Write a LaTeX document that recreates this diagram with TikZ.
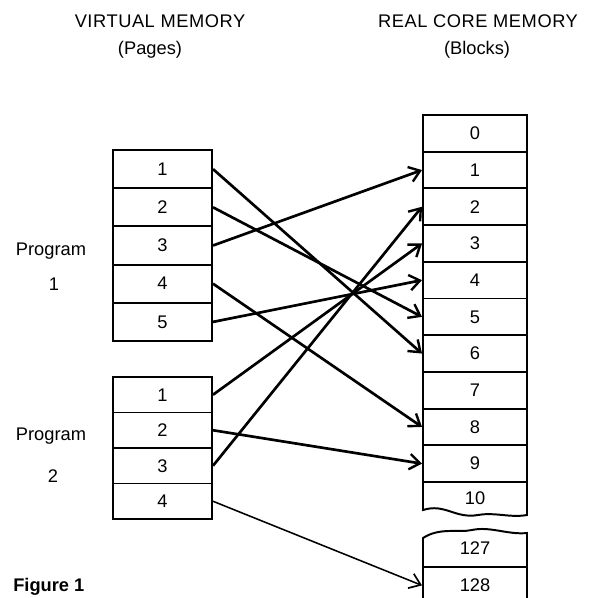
\documentclass[tikz,border=0pt]{standalone}
\usepackage{fontspec}
\setmainfont{Liberation Sans}
\usetikzlibrary{arrows.meta,calc,positioning}

\tikzset{
  lbl/.style={font=\fontsize{13}{15}\selectfont, inner sep=0pt},
  head/.style={font=\fontsize{13}{15}\selectfont\addfontfeatures{LetterSpace=3}, inner sep=0pt},
  boxline/.style={line width=1.4pt},
  pagebox/.style={lbl, draw, boxline, minimum width=2.475cm},
  blockbox/.style={lbl, draw, boxline, minimum width=2.6cm, minimum height=0.9175cm},
  link/.style={line width=1.9pt, -{Straight Barb[length=7.5pt,width=11pt,line width=1.7pt]}},
  thinlink/.style={line width=1.1pt, -{Straight Barb[length=7.5pt,width=11pt,line width=1.2pt]}}
}

\begin{document}
\begin{tikzpicture}[x=0.025cm, y=-0.025cm]
\useasboundingbox (0,0) rectangle (602,597);
\node[head, anchor=base] (vm) at (160,28) {VIRTUAL MEMORY};
\node[lbl, anchor=base] (pages) at (150,55) {(Pages)};
\node[head, anchor=base] (rcm) at (478,28) {REAL CORE MEMORY};
\node[lbl, anchor=base] (blocks) at (477,55) {(Blocks)};
\node[lbl, anchor=base] (prog1) at (51,255) {Program};
\node[lbl, anchor=base] (prog1n) at (54,290) {1};
\node[lbl, anchor=base] (prog2) at (51,440) {Program};
\node[lbl, anchor=base] (prog2n) at (53,482) {2};
\node[lbl, font=\fontsize{13}{15}\selectfont\bfseries, anchor=base west] (fig) at (13,591) {Figure 1};
\foreach \i in {1,...,5}
  \node[pagebox, minimum height=0.955cm] (p1r\i) at (162.5,{150+38.2*(\i-0.5)}) {\i};
\foreach \i in {1,...,4}
  \node[pagebox, minimum height=0.8875cm] (p2r\i) at (162.5,{377+35.5*(\i-0.5)}) {\i};
\foreach \i in {0,...,9}
  \node[blockbox] (b\i) at (475,{115+36.7*(\i+0.5)}) {\i};
\node[blockbox, draw=none] (b10) at (475,498) {10};
\draw[boxline] (423,482) -- (423,510) .. controls (445,503) and (455,519) .. (478,515)
  .. controls (495,512) and (510,518) .. (527,515) -- (527,482);
\node[blockbox, draw=none] (b127) at (475,548) {127};
\draw[boxline] (423,567) -- (423,538) .. controls (440,527) and (458,533) .. (472,530)
  .. controls (490,526) and (508,535) .. (527,533) -- (527,567);
\node[blockbox] (b128) at (475,585.4) {128};
\draw[link] (p1r1.east) -- (b6.west);
\draw[link] (p1r2.east) -- (b5.west);
\draw[link] (p1r3.east) -- (b1.west);
\draw[link] (p1r4.east) -- (b8.west);
\draw[link] (p1r5.east) -- (b4.west);
\draw[link] (p2r1.east) -- (b3.west);
\draw[link] (p2r2.east) -- (b9.west);
\draw[link] (p2r3.east) -- (b2.west);
\draw[thinlink] (p2r4.east) -- (b128.west);
\end{tikzpicture}
\end{document}
